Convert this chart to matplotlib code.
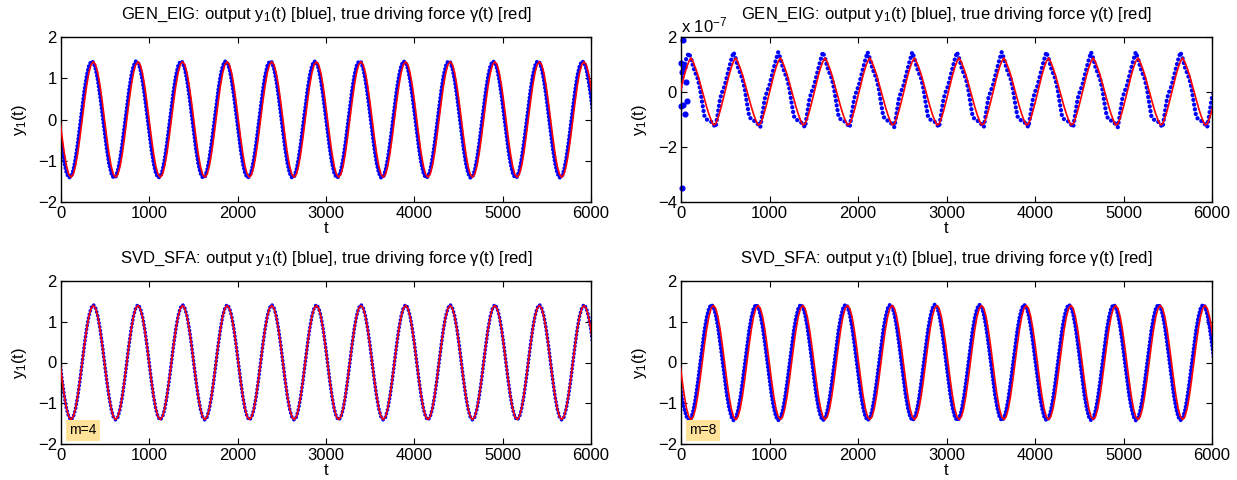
import numpy as np
import matplotlib
matplotlib.use('Agg')
import matplotlib.pyplot as plt

plt.rcParams['font.family'] = ['Liberation Sans', 'DejaVu Sans']
plt.rcParams['mathtext.fontset'] = 'custom'
plt.rcParams['mathtext.rm'] = 'Liberation Sans'
plt.rcParams['mathtext.it'] = 'Liberation Sans'
plt.rcParams['mathtext.bf'] = 'Liberation Sans:bold'

# ---- time grid (samples) ----
T_START = -12.6
T_STEP = 25.25
N_SAMPLES = 240

# ---- true driving force gamma(t) (red, panels GEN_EIG left / SVD_SFA) ----
gamma_red = [
    0.00, -0.43, -0.82, -1.13, -1.33, -1.40, -1.33, -1.13, -0.82, -0.43, 0.00, 0.43, 0.82, 1.13, 1.33, 1.40, 1.33, 1.13, 0.82, 0.43,
    0.00, -0.43, -0.82, -1.13, -1.33, -1.40, -1.33, -1.13, -0.82, -0.43, 0.00, 0.43, 0.82, 1.13, 1.33, 1.40, 1.33, 1.13, 0.82, 0.43,
    0.00, -0.43, -0.82, -1.13, -1.33, -1.40, -1.33, -1.13, -0.82, -0.43, 0.00, 0.43, 0.82, 1.13, 1.33, 1.40, 1.33, 1.13, 0.82, 0.43,
    0.00, -0.43, -0.82, -1.13, -1.33, -1.40, -1.33, -1.13, -0.82, -0.43, 0.00, 0.43, 0.82, 1.13, 1.33, 1.40, 1.33, 1.13, 0.82, 0.43,
    0.00, -0.43, -0.82, -1.13, -1.33, -1.40, -1.33, -1.13, -0.82, -0.43, 0.00, 0.43, 0.82, 1.13, 1.33, 1.40, 1.33, 1.13, 0.82, 0.43,
    0.00, -0.43, -0.82, -1.13, -1.33, -1.40, -1.33, -1.13, -0.82, -0.43, 0.00, 0.43, 0.82, 1.13, 1.33, 1.40, 1.33, 1.13, 0.82, 0.43,
    0.00, -0.43, -0.82, -1.13, -1.33, -1.40, -1.33, -1.13, -0.82, -0.43, 0.00, 0.43, 0.82, 1.13, 1.33, 1.40, 1.33, 1.13, 0.82, 0.43,
    0.00, -0.43, -0.82, -1.13, -1.33, -1.40, -1.33, -1.13, -0.82, -0.43, 0.00, 0.43, 0.82, 1.13, 1.33, 1.40, 1.33, 1.13, 0.82, 0.43,
    0.00, -0.43, -0.82, -1.13, -1.33, -1.40, -1.33, -1.13, -0.82, -0.43, 0.00, 0.43, 0.82, 1.13, 1.33, 1.40, 1.33, 1.13, 0.82, 0.43,
    0.00, -0.43, -0.82, -1.13, -1.33, -1.40, -1.33, -1.13, -0.82, -0.43, 0.00, 0.43, 0.82, 1.13, 1.33, 1.40, 1.33, 1.13, 0.82, 0.43,
    0.00, -0.43, -0.82, -1.13, -1.33, -1.40, -1.33, -1.13, -0.82, -0.43, 0.00, 0.43, 0.82, 1.13, 1.33, 1.40, 1.33, 1.13, 0.82, 0.43,
    0.00, -0.43, -0.82, -1.13, -1.33, -1.40, -1.33, -1.13, -0.82, -0.43, 0.00, 0.43, 0.82, 1.13, 1.33, 1.40, 1.33, 1.13, 0.82, 0.43,
]

# ---- GEN_EIG (left) output y1(t): slightly ahead of gamma ----
gen_eig_blue = [
    -0.30, -0.71, -1.06, -1.30, -1.41, -1.39, -1.23, -0.95, -0.58, -0.15, 0.30, 0.71, 1.06, 1.30, 1.41, 1.39, 1.23, 0.95, 0.58, 0.15,
    -0.30, -0.71, -1.06, -1.30, -1.41, -1.39, -1.23, -0.95, -0.58, -0.15, 0.30, 0.71, 1.06, 1.30, 1.41, 1.39, 1.23, 0.95, 0.58, 0.15,
    -0.30, -0.71, -1.06, -1.30, -1.41, -1.39, -1.23, -0.95, -0.58, -0.15, 0.30, 0.71, 1.06, 1.30, 1.41, 1.39, 1.23, 0.95, 0.58, 0.15,
    -0.30, -0.71, -1.06, -1.30, -1.41, -1.39, -1.23, -0.95, -0.58, -0.15, 0.30, 0.71, 1.06, 1.30, 1.41, 1.39, 1.23, 0.95, 0.58, 0.15,
    -0.30, -0.71, -1.06, -1.30, -1.41, -1.39, -1.23, -0.95, -0.58, -0.15, 0.30, 0.71, 1.06, 1.30, 1.41, 1.39, 1.23, 0.95, 0.58, 0.15,
    -0.30, -0.71, -1.06, -1.30, -1.41, -1.39, -1.23, -0.95, -0.58, -0.15, 0.30, 0.71, 1.06, 1.30, 1.41, 1.39, 1.23, 0.95, 0.58, 0.15,
    -0.30, -0.71, -1.06, -1.30, -1.41, -1.39, -1.23, -0.95, -0.58, -0.15, 0.30, 0.71, 1.06, 1.30, 1.41, 1.39, 1.23, 0.95, 0.58, 0.15,
    -0.30, -0.71, -1.06, -1.30, -1.41, -1.39, -1.23, -0.95, -0.58, -0.15, 0.30, 0.71, 1.06, 1.30, 1.41, 1.39, 1.23, 0.95, 0.58, 0.15,
    -0.30, -0.71, -1.06, -1.30, -1.41, -1.39, -1.23, -0.95, -0.58, -0.15, 0.30, 0.71, 1.06, 1.30, 1.41, 1.39, 1.23, 0.95, 0.58, 0.15,
    -0.30, -0.71, -1.06, -1.30, -1.41, -1.39, -1.23, -0.95, -0.58, -0.15, 0.30, 0.71, 1.06, 1.30, 1.41, 1.39, 1.23, 0.95, 0.58, 0.15,
    -0.30, -0.71, -1.06, -1.30, -1.41, -1.39, -1.23, -0.95, -0.58, -0.15, 0.30, 0.71, 1.06, 1.30, 1.41, 1.39, 1.23, 0.95, 0.58, 0.15,
    -0.30, -0.71, -1.06, -1.30, -1.41, -1.39, -1.23, -0.95, -0.58, -0.15, 0.30, 0.71, 1.06, 1.30, 1.41, 1.39, 1.23, 0.95, 0.58, 0.15,
]

# ---- GEN_EIG (right, x 1e-7) output and driving force ----
gen_eig2_red = [
    -0.05, 0.29, 0.61, 0.89, 1.11, 1.24, 1.08, 0.87, 0.63, 0.34, 0.04, -0.26, -0.55, -0.81, -1.03, -1.20, -1.16, -0.96, -0.69, -0.38,
    -0.05, 0.29, 0.61, 0.89, 1.11, 1.24, 1.08, 0.87, 0.63, 0.34, 0.04, -0.26, -0.55, -0.81, -1.03, -1.20, -1.16, -0.96, -0.69, -0.38,
    -0.05, 0.29, 0.61, 0.89, 1.11, 1.24, 1.08, 0.87, 0.63, 0.34, 0.04, -0.26, -0.55, -0.81, -1.03, -1.20, -1.16, -0.96, -0.69, -0.38,
    -0.05, 0.29, 0.61, 0.89, 1.11, 1.24, 1.08, 0.87, 0.63, 0.34, 0.04, -0.26, -0.55, -0.81, -1.03, -1.20, -1.16, -0.96, -0.69, -0.38,
    -0.05, 0.29, 0.61, 0.89, 1.11, 1.24, 1.08, 0.87, 0.63, 0.34, 0.04, -0.26, -0.55, -0.81, -1.03, -1.20, -1.16, -0.96, -0.69, -0.38,
    -0.05, 0.29, 0.61, 0.89, 1.11, 1.24, 1.08, 0.87, 0.63, 0.34, 0.04, -0.26, -0.55, -0.81, -1.03, -1.20, -1.16, -0.96, -0.69, -0.38,
    -0.05, 0.29, 0.61, 0.89, 1.11, 1.24, 1.08, 0.87, 0.63, 0.34, 0.04, -0.26, -0.55, -0.81, -1.03, -1.20, -1.16, -0.96, -0.69, -0.38,
    -0.05, 0.29, 0.61, 0.89, 1.11, 1.24, 1.08, 0.87, 0.63, 0.34, 0.04, -0.26, -0.55, -0.81, -1.03, -1.20, -1.16, -0.96, -0.69, -0.38,
    -0.05, 0.29, 0.61, 0.89, 1.11, 1.24, 1.08, 0.87, 0.63, 0.34, 0.04, -0.26, -0.55, -0.81, -1.03, -1.20, -1.16, -0.96, -0.69, -0.38,
    -0.05, 0.29, 0.61, 0.89, 1.11, 1.24, 1.08, 0.87, 0.63, 0.34, 0.04, -0.26, -0.55, -0.81, -1.03, -1.20, -1.16, -0.96, -0.69, -0.38,
    -0.05, 0.29, 0.61, 0.89, 1.11, 1.24, 1.08, 0.87, 0.63, 0.34, 0.04, -0.26, -0.55, -0.81, -1.03, -1.20, -1.16, -0.96, -0.69, -0.38,
    -0.05, 0.29, 0.61, 0.89, 1.11, 1.24, 1.08, 0.87, 0.63, 0.34, 0.04, -0.26, -0.55, -0.81, -1.03, -1.20, -1.16, -0.96, -0.69, -0.38,
]
gen_eig2_blue = [
    0.00, 0.60, 0.95, 1.25, 1.42, 1.22, 0.90, 0.68, 0.48, 0.12, -0.40, -0.88, -1.00, -1.04, -1.08, -1.18, -1.28, -0.75, -0.24, 0.02,
    0.22, 0.55, 0.87, 1.18, 1.45, 1.22, 0.90, 0.68, 0.48, 0.12, -0.40, -0.88, -1.00, -1.04, -1.08, -1.18, -1.28, -0.75, -0.24, 0.02,
    0.22, 0.55, 0.87, 1.18, 1.45, 1.22, 0.90, 0.68, 0.48, 0.12, -0.40, -0.88, -1.00, -1.04, -1.08, -1.18, -1.28, -0.75, -0.24, 0.02,
    0.22, 0.55, 0.87, 1.18, 1.45, 1.22, 0.90, 0.68, 0.48, 0.12, -0.40, -0.88, -1.00, -1.04, -1.08, -1.18, -1.28, -0.75, -0.24, 0.02,
    0.22, 0.55, 0.87, 1.18, 1.45, 1.22, 0.90, 0.68, 0.48, 0.12, -0.40, -0.88, -1.00, -1.04, -1.08, -1.18, -1.28, -0.75, -0.24, 0.02,
    0.22, 0.55, 0.87, 1.18, 1.45, 1.22, 0.90, 0.68, 0.48, 0.12, -0.40, -0.88, -1.00, -1.04, -1.08, -1.18, -1.28, -0.75, -0.24, 0.02,
    0.22, 0.55, 0.87, 1.18, 1.45, 1.22, 0.90, 0.68, 0.48, 0.12, -0.40, -0.88, -1.00, -1.04, -1.08, -1.18, -1.28, -0.75, -0.24, 0.02,
    0.22, 0.55, 0.87, 1.18, 1.45, 1.22, 0.90, 0.68, 0.48, 0.12, -0.40, -0.88, -1.00, -1.04, -1.08, -1.18, -1.28, -0.75, -0.24, 0.02,
    0.22, 0.55, 0.87, 1.18, 1.45, 1.22, 0.90, 0.68, 0.48, 0.12, -0.40, -0.88, -1.00, -1.04, -1.08, -1.18, -1.28, -0.75, -0.24, 0.02,
    0.22, 0.55, 0.87, 1.18, 1.45, 1.22, 0.90, 0.68, 0.48, 0.12, -0.40, -0.88, -1.00, -1.04, -1.08, -1.18, -1.28, -0.75, -0.24, 0.02,
    0.22, 0.55, 0.87, 1.18, 1.45, 1.22, 0.90, 0.68, 0.48, 0.12, -0.40, -0.88, -1.00, -1.04, -1.08, -1.18, -1.28, -0.75, -0.24, 0.02,
    0.22, 0.55, 0.87, 1.18, 1.45, 1.22, 0.90, 0.68, 0.48, 0.12, -0.40, -0.88, -1.00, -1.04, -1.08, -1.18, -1.28, -0.75, -0.24, 0.02,
]
# start-up transient dots of the right GEN_EIG output
gen_eig2_start_t = [0, 3, 8, 12, 18, 25, 33, 45, 55, 65]
gen_eig2_start_y = [1.07, -0.50, 0.72, -3.50, -0.48, 1.90, 0.90, -0.79, 0.35, -0.33]

# ---- SVD_SFA m=4 output ----
svd4_blue = [
    0.00, -0.44, -0.83, -1.14, -1.34, -1.41, -1.34, -1.14, -0.83, -0.44, 0.00, 0.44, 0.83, 1.14, 1.34, 1.42, 1.34, 1.14, 0.83, 0.44,
    0.00, -0.44, -0.83, -1.14, -1.34, -1.41, -1.34, -1.14, -0.83, -0.44, 0.00, 0.44, 0.83, 1.14, 1.34, 1.42, 1.34, 1.14, 0.83, 0.44,
    0.00, -0.44, -0.83, -1.14, -1.34, -1.41, -1.34, -1.14, -0.83, -0.44, 0.00, 0.44, 0.83, 1.14, 1.34, 1.42, 1.34, 1.14, 0.83, 0.44,
    0.00, -0.44, -0.83, -1.14, -1.34, -1.41, -1.34, -1.14, -0.83, -0.44, 0.00, 0.44, 0.83, 1.14, 1.34, 1.42, 1.34, 1.14, 0.83, 0.44,
    0.00, -0.44, -0.83, -1.14, -1.34, -1.41, -1.34, -1.14, -0.83, -0.44, 0.00, 0.44, 0.83, 1.14, 1.34, 1.42, 1.34, 1.14, 0.83, 0.44,
    0.00, -0.44, -0.83, -1.14, -1.34, -1.41, -1.34, -1.14, -0.83, -0.44, 0.00, 0.44, 0.83, 1.14, 1.34, 1.42, 1.34, 1.14, 0.83, 0.44,
    0.00, -0.44, -0.83, -1.14, -1.34, -1.41, -1.34, -1.14, -0.83, -0.44, 0.00, 0.44, 0.83, 1.14, 1.34, 1.42, 1.34, 1.14, 0.83, 0.44,
    0.00, -0.44, -0.83, -1.14, -1.34, -1.41, -1.34, -1.14, -0.83, -0.44, 0.00, 0.44, 0.83, 1.14, 1.34, 1.42, 1.34, 1.14, 0.83, 0.44,
    0.00, -0.44, -0.83, -1.14, -1.34, -1.41, -1.34, -1.14, -0.83, -0.44, 0.00, 0.44, 0.83, 1.14, 1.34, 1.42, 1.34, 1.14, 0.83, 0.44,
    0.00, -0.44, -0.83, -1.14, -1.34, -1.41, -1.34, -1.14, -0.83, -0.44, 0.00, 0.44, 0.83, 1.14, 1.34, 1.42, 1.34, 1.14, 0.83, 0.44,
    0.00, -0.44, -0.83, -1.14, -1.34, -1.41, -1.34, -1.14, -0.83, -0.44, 0.00, 0.44, 0.83, 1.14, 1.34, 1.42, 1.34, 1.14, 0.83, 0.44,
    0.00, -0.44, -0.83, -1.14, -1.34, -1.41, -1.34, -1.14, -0.83, -0.44, 0.00, 0.44, 0.83, 1.14, 1.34, 1.42, 1.34, 1.14, 0.83, 0.44,
]

# ---- SVD_SFA m=8 output: slightly ahead of gamma ----
svd8_blue = [
    -0.45, -0.90, -1.15, -1.33, -1.42, -1.37, -1.18, -0.88, -0.49, -0.06, 0.38, 0.79, 1.11, 1.33, 1.42, 1.37, 1.18, 0.88, 0.49, 0.06,
    -0.38, -0.79, -1.11, -1.33, -1.42, -1.37, -1.18, -0.88, -0.49, -0.06, 0.38, 0.79, 1.11, 1.33, 1.42, 1.37, 1.18, 0.88, 0.49, 0.06,
    -0.38, -0.79, -1.11, -1.33, -1.42, -1.37, -1.18, -0.88, -0.49, -0.06, 0.38, 0.79, 1.11, 1.33, 1.42, 1.37, 1.18, 0.88, 0.49, 0.06,
    -0.38, -0.79, -1.11, -1.33, -1.42, -1.37, -1.18, -0.88, -0.49, -0.06, 0.38, 0.79, 1.11, 1.33, 1.42, 1.37, 1.18, 0.88, 0.49, 0.06,
    -0.38, -0.79, -1.11, -1.33, -1.42, -1.37, -1.18, -0.88, -0.49, -0.06, 0.38, 0.79, 1.11, 1.33, 1.42, 1.37, 1.18, 0.88, 0.49, 0.06,
    -0.38, -0.79, -1.11, -1.33, -1.42, -1.37, -1.18, -0.88, -0.49, -0.06, 0.38, 0.79, 1.11, 1.33, 1.42, 1.37, 1.18, 0.88, 0.49, 0.06,
    -0.38, -0.79, -1.11, -1.33, -1.42, -1.37, -1.18, -0.88, -0.49, -0.06, 0.38, 0.79, 1.11, 1.33, 1.42, 1.37, 1.18, 0.88, 0.49, 0.06,
    -0.38, -0.79, -1.11, -1.33, -1.42, -1.37, -1.18, -0.88, -0.49, -0.06, 0.38, 0.79, 1.11, 1.33, 1.42, 1.37, 1.18, 0.88, 0.49, 0.06,
    -0.38, -0.79, -1.11, -1.33, -1.42, -1.37, -1.18, -0.88, -0.49, -0.06, 0.38, 0.79, 1.11, 1.33, 1.42, 1.37, 1.18, 0.88, 0.49, 0.06,
    -0.38, -0.79, -1.11, -1.33, -1.42, -1.37, -1.18, -0.88, -0.49, -0.06, 0.38, 0.79, 1.11, 1.33, 1.42, 1.37, 1.18, 0.88, 0.49, 0.06,
    -0.38, -0.79, -1.11, -1.33, -1.42, -1.37, -1.18, -0.88, -0.49, -0.06, 0.38, 0.79, 1.11, 1.33, 1.42, 1.37, 1.18, 0.88, 0.49, 0.06,
    -0.38, -0.79, -1.11, -1.33, -1.42, -1.37, -1.18, -0.88, -0.49, -0.06, 0.38, 0.79, 1.11, 1.33, 1.42, 1.37, 1.18, 0.88, 0.49, 0.06,
]

titles = [
    'GEN_EIG: output y$_1$(t) [blue], true driving force γ(t) [red]',
    'GEN_EIG: output y$_1$(t) [blue], true driving force γ(t) [red]',
    'SVD_SFA: output y$_1$(t) [blue], true driving force γ(t) [red]',
    'SVD_SFA: output y$_1$(t) [blue], true driving force γ(t) [red]',
]
x_ticks = [0, 1000, 2000, 3000, 4000, 5000, 6000]
y_ticks_main = [-2, -1, 0, 1, 2]
y_ticks_scaled = [-4, -2, 0, 2]
m_labels = ['m=4', 'm=8']

t = T_START + T_STEP * np.arange(N_SAMPLES)

BLUE = '#0000FF'
RED = '#FF0000'
FS = 12

fig = plt.figure(figsize=(12.37, 4.8), dpi=100)
W, H = 1237.0, 480.0
def rect(x0, x1, y0, y1):
    return [x0 / W, 1 - y1 / H, (x1 - x0) / W, (y1 - y0) / H]

ax_tl = fig.add_axes(rect(61, 591, 37, 202))
ax_tr = fig.add_axes(rect(681, 1212, 37, 202))
ax_bl = fig.add_axes(rect(61, 591, 281, 444))
ax_br = fig.add_axes(rect(681, 1212, 281, 444))


def draw(ax, blue, red, ylim, yticks, title, dot_lw=2.9, dot_gap=0.9):
    ax.plot(t, blue, color=BLUE, lw=dot_lw, ls=(0, (0.01, dot_gap)),
            dash_capstyle='round', zorder=2)
    ax.plot(t, red, color=RED, lw=1.2, zorder=3)
    ax.set_xlim(0, 6000)
    ax.set_ylim(*ylim)
    ax.set_xticks(x_ticks)
    ax.set_yticks(yticks)
    ax.tick_params(direction='in', top=True, right=True, length=4,
                   width=0.8, labelsize=FS, pad=3, colors='black')
    for s in ax.spines.values():
        s.set_linewidth(1.0)
    ax.set_title(title, fontsize=FS, pad=13)
    ax.set_xlabel('t', fontsize=FS, labelpad=0)
    ax.set_ylabel('y$_1$(t)', fontsize=FS, labelpad=6)


draw(ax_tl, gen_eig_blue, gamma_red, (-2, 2), y_ticks_main, titles[0])
draw(ax_tr, gen_eig2_blue, gen_eig2_red, (-4, 2), y_ticks_scaled, titles[1],
     dot_lw=3.1, dot_gap=1.1)
ax_tr.plot(gen_eig2_start_t, gen_eig2_start_y, ls='none', marker='o', ms=3.4,
           color=BLUE, zorder=2, clip_on=False)
ax_tr.text(0.0, 1.01, 'x 10$^{-7}$', transform=ax_tr.transAxes,
           fontsize=FS, ha='left', va='bottom')
draw(ax_bl, svd4_blue, gamma_red, (-2, 2), y_ticks_main, titles[2],
     dot_lw=2.7, dot_gap=1.0)
draw(ax_br, svd8_blue, gamma_red, (-2, 2), y_ticks_main, titles[3])

for ax, lab in ((ax_bl, m_labels[0]), (ax_br, m_labels[1])):
    ax.text(0.016, 0.04, lab, transform=ax.transAxes, fontsize=10,
            ha='left', va='bottom',
            bbox=dict(boxstyle='square,pad=0.25', fc='#FFE39B', ec='none'))

fig.savefig('out.png', dpi=100)
